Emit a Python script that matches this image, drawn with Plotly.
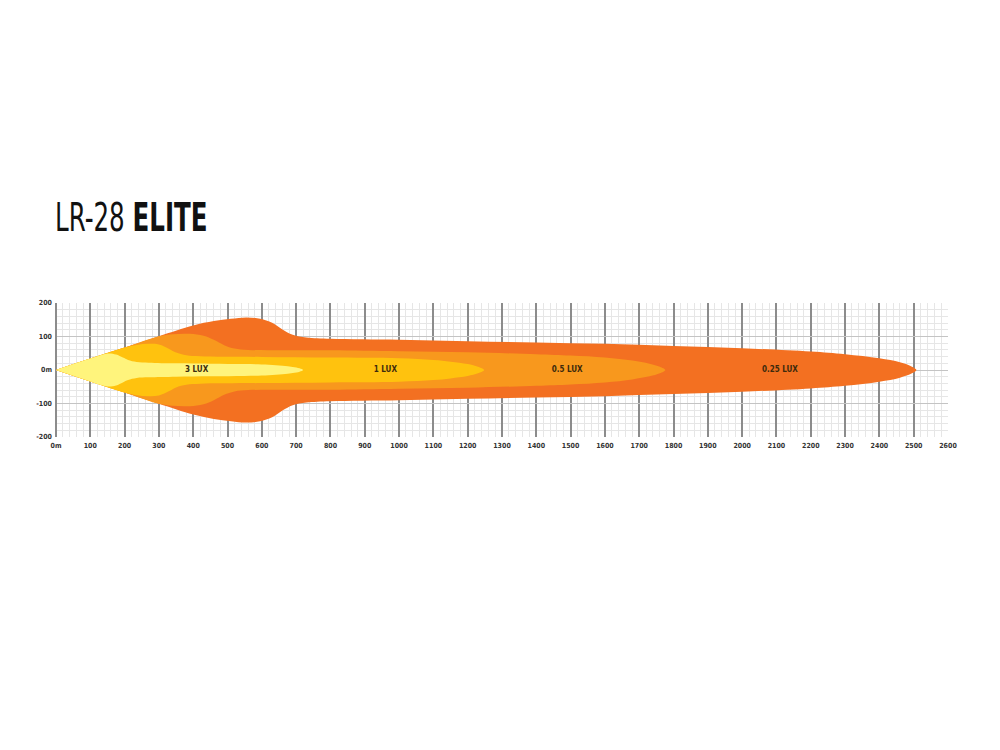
import plotly.graph_objects as go

# ---- data (metres, upper half-width of each lux contour; beam is symmetric about 0) ----
lux_names = ["0.25 LUX", "0.5 LUX", "1 LUX", "3 LUX"]

x_025 = [0, 100, 200, 300, 400, 460, 510, 555, 595, 630, 660, 690, 730, 800, 1000, 1200, 1400, 1600, 1800, 2000, 2200, 2300, 2400, 2460, 2495, 2508]
y_025 = [0, 34, 67, 101, 133, 146, 153, 157, 153, 141, 121, 105, 97, 93, 90, 86, 82, 78, 72, 65, 55, 47, 35, 23, 10, 0]

x_05 = [0, 100, 200, 300, 340, 390, 430, 460, 490, 520, 560, 650, 800, 1000, 1200, 1400, 1500, 1600, 1680, 1730, 1760, 1776]
y_05 = [0, 34, 67, 101, 107, 108, 102, 90, 74, 64, 60, 59, 59, 56, 53, 47, 43, 37, 28, 19, 10, 0]

x_1 = [0, 100, 200, 235, 270, 300, 330, 350, 380, 420, 600, 800, 1000, 1100, 1150, 1200, 1230, 1248]
y_1 = [0, 34, 67, 75, 78, 76, 63, 52, 44, 41, 39, 37, 35, 30, 25, 18, 10, 0]

x_3 = [0, 100, 150, 175, 195, 210, 235, 270, 350, 450, 550, 620, 660, 690, 710, 720]
y_3 = [0, 34, 49, 46, 37, 30, 24, 22, 20, 19, 18, 16, 13, 9, 5, 0]

label_x = [2110, 1490, 960, 410]

x_tickvals = list(range(0, 2601, 100))
x_ticktext = ["0m"] + [str(v) for v in range(100, 2601, 100)]
y_tickvals = [200, 100, 0, -100, -200]
y_ticktext = ["200", "100", "0m", "-100", "-200"]

colors = ["#F37021", "#F8981D", "#FFC20E", "#FFF47C"]

contours = [(x_025, y_025), (x_05, y_05), (x_1, y_1), (x_3, y_3)]

FONT = "DejaVu Sans Condensed, Liberation Sans Narrow, sans-serif"

fig = go.Figure()
for (xs, ys), col, name in zip(contours, colors, lux_names):
    # upper edge left->right, then lower edge right->left (tip point not repeated, keeps tip sharp)
    px = xs + xs[::-1][1:-1]
    py = ys + [-v for v in ys[::-1]][1:-1]
    fig.add_trace(go.Scatter(
        x=px, y=py, mode="lines", fill="toself", fillcolor=col,
        line=dict(width=0, color=col, shape="spline", smoothing=1.0),
        name=name, hoverinfo="name", showlegend=False))

fig.add_trace(go.Scatter(
    x=label_x, y=[0] * len(label_x), mode="text", text=lux_names,
    textfont=dict(family=FONT, size=8, color="#3d2a0c", weight="bold"),
    showlegend=False, hoverinfo="skip"))

tickfont = dict(family=FONT, size=7, color="#333333", weight="bold")

fig.update_xaxes(
    range=[0, 2600], tickvals=x_tickvals, ticktext=x_ticktext, tickfont=tickfont,
    showgrid=True, gridcolor="#8c8c8c", gridwidth=1.6,
    minor=dict(dtick=20, tick0=0, showgrid=True, gridcolor="#e6e6e6", gridwidth=1),
    zeroline=True, zerolinecolor="#8c8c8c", zerolinewidth=1.6,
    showline=False, ticks="", ticklabelstandoff=3, fixedrange=True)
fig.update_yaxes(
    range=[-200, 200], tickvals=y_tickvals, ticktext=y_ticktext, tickfont=tickfont,
    showgrid=True, gridcolor="#c4c4c4", gridwidth=1,
    minor=dict(dtick=20, tick0=0, showgrid=True, gridcolor="#e6e6e6", gridwidth=1),
    zeroline=True, zerolinecolor="#c4c4c4", zerolinewidth=1,
    showline=False, ticks="", ticklabelstandoff=3, fixedrange=True)

W, H = 984, 734
L, R, T, B = 48, 44, 295, 305
plot_w = W - L - R
plot_h = H - T - B

fig.add_annotation(
    xref="paper", yref="paper", x=-3 / plot_w, y=1 + (295 - 209) / plot_h, xanchor="left", yanchor="middle",
    text="LR-28 <b>ELITE</b>", showarrow=False,
    font=dict(family=FONT, size=39, color="#111111"))

fig.update_layout(
    width=W, height=H, autosize=False,
    margin=dict(l=L, r=R, t=T, b=B),
    paper_bgcolor="white", plot_bgcolor="white",
)

# condense the title glyphs horizontally (the original uses a narrow display face)
post = """
var gd = document.getElementById('{plot_id}');
function squeeze() {
  gd.querySelectorAll('.annotation-text').forEach(function (t) {
    var bb = t.getBBox();
    var x0 = bb.x;
    t.setAttribute('transform', 'translate(' + x0 + ',0) scale(0.70,1) translate(' + (-x0) + ',0)');
  });
}
squeeze();
"""

fig.write_html("out.html", post_script=post)
